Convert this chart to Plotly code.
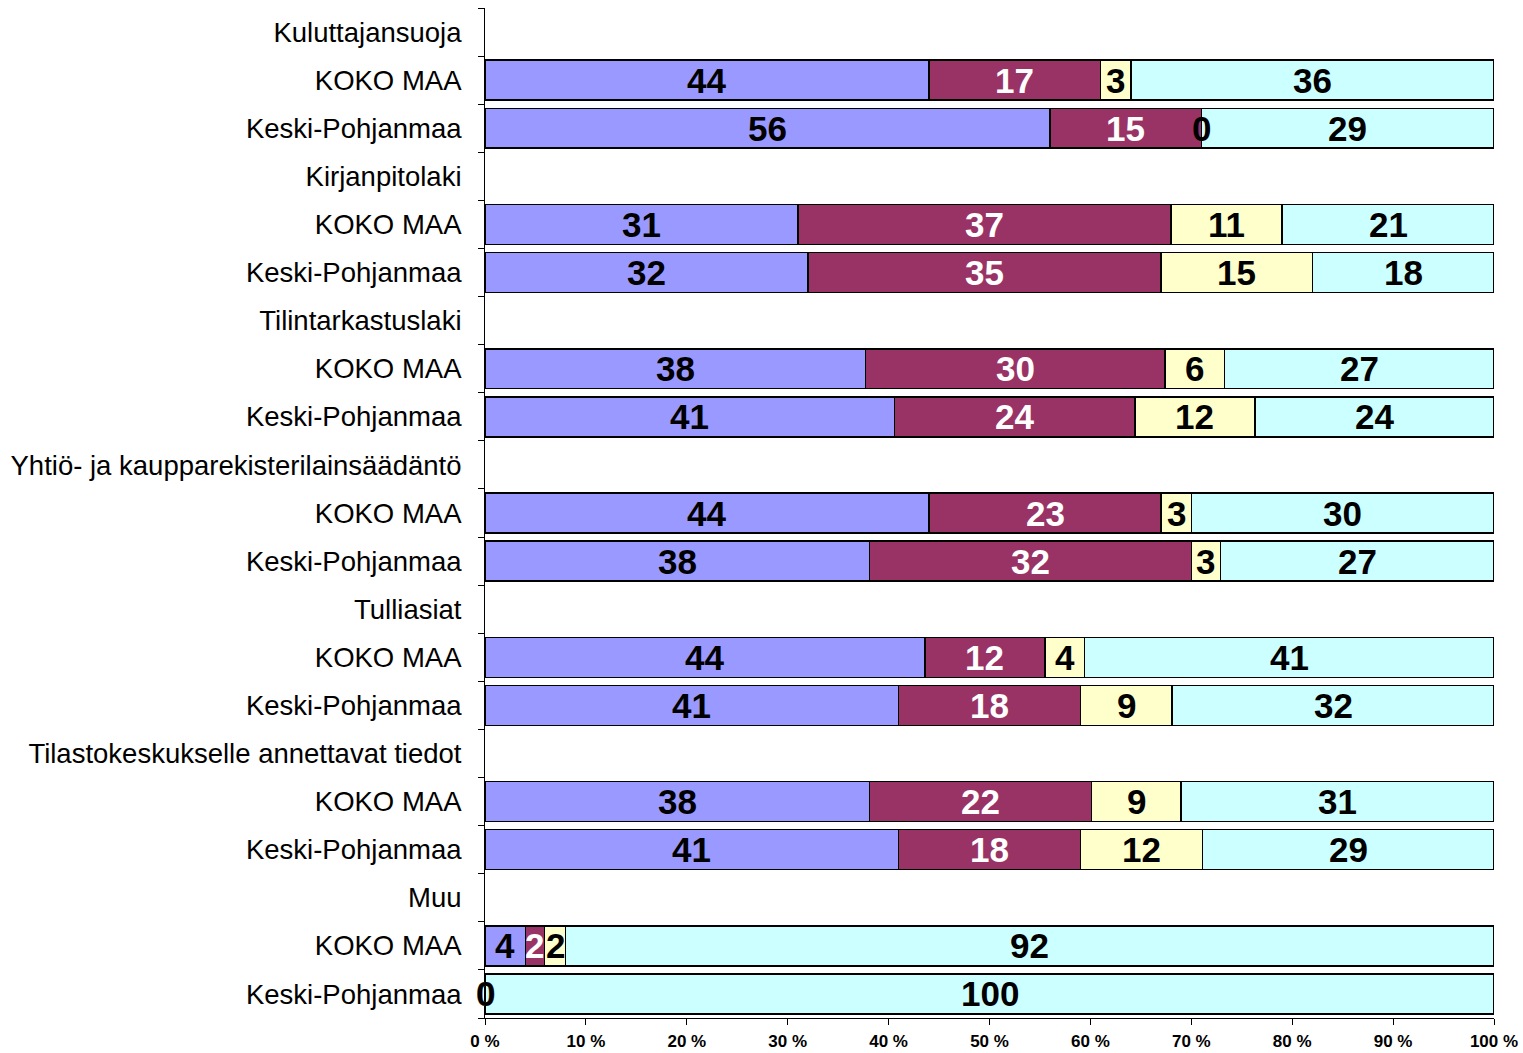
import plotly.graph_objects as go

groups = ["Kuluttajansuoja", "Kirjanpitolaki", "Tilintarkastuslaki",
          "Yhtiö- ja kaupparekisterilainsäädäntö", "Tulliasiat",
          "Tilastokeskukselle annettavat tiedot", "Muu"]
regions = ["KOKO MAA", "Keski-Pohjanmaa"]

# values per bar, in order: group x region (KOKO MAA, Keski-Pohjanmaa)
series1 = [44.0, 56.0, 31.0, 32.0, 37.7, 40.6, 44.0, 38.1, 43.6, 41.0, 38.1, 41.0, 4.0, 0.0]
series2 = [17.0, 15.0, 37.0, 35.0, 29.7, 23.8, 23.0, 31.9, 11.9, 18.0, 22.0, 18.0, 1.9, 0.0]
series3 = [3.0, 0.0, 11.0, 15.0, 5.9, 11.9, 3.0, 2.9, 3.9, 9.1, 8.9, 12.1, 2.1, 0.0]
series4 = [36.0, 29.0, 21.0, 18.0, 26.7, 23.7, 30.0, 27.1, 40.6, 31.9, 31.0, 28.9, 92.0, 100.0]

series_names = ["Sarja 1", "Sarja 2", "Sarja 3", "Sarja 4"]
colors = ["#9999FF", "#993366", "#FFFFCC", "#CCFFFF"]
text_colors = ["black", "white", "black", "black"]

tick_vals_x = [0, 10, 20, 30, 40, 50, 60, 70, 80, 90, 100]
tick_text_x = ["0 %", "10 %", "20 %", "30 %", "40 %", "50 %", "60 %", "70 %", "80 %", "90 %", "100 %"]

# build category rows (header row + one row per region)
row_ids, row_labels = [], []
bar_ids = []
for gi, g in enumerate(groups):
    row_ids.append(f"h{gi}")
    row_labels.append(g)
    for ri, r in enumerate(regions):
        rid = f"b{gi}_{ri}"
        row_ids.append(rid)
        row_labels.append(r)
        bar_ids.append(rid)

all_series = [series1, series2, series3, series4]

fig = go.Figure()
for name, vals, col in zip(series_names, all_series, colors):
    lookup = dict(zip(bar_ids, vals))
    xs = [lookup.get(rid) for rid in row_ids]
    fig.add_trace(go.Bar(
        y=row_ids, x=xs, orientation="h", name=name,
        marker=dict(color=col, line=dict(color="black", width=1.5)),
        hoverinfo="x+y",
    ))

annotations = []
for bi, rid in enumerate(bar_ids):
    cum = 0.0
    for si, vals in enumerate(all_series):
        v = vals[bi]
        annotations.append(dict(
            x=cum + v / 2, y=rid, xref="x", yref="y",
            text=str(int(round(v))), showarrow=False,
            font=dict(family="Liberation Sans, Arial, sans-serif", size=35,
                      color=text_colors[si], weight="bold"),
            xanchor="center", yanchor="middle",
        ))
        cum += v

fig.update_layout(
    barmode="stack",
    width=1523, height=1053,
    margin=dict(l=485, r=29, t=8, b=35, autoexpand=False),
    plot_bgcolor="white", paper_bgcolor="white",
    showlegend=False,
    bargap=0.17,
    annotations=annotations,
    font=dict(family="Liberation Sans, Arial, sans-serif", color="black"),
)
fig.update_xaxes(
    range=[0, 100], tickvals=tick_vals_x, ticktext=tick_text_x,
    showgrid=False, zeroline=False, showline=True, linecolor="black", linewidth=1,
    ticks="outside", ticklen=6, tickcolor="black", automargin=False,
    ticklabeloverflow="allow",
    tickfont=dict(size=17, weight="bold", color="black"), ticklabelstandoff=2,
)
fig.update_yaxes(
    type="category", categoryorder="array", categoryarray=row_ids,
    tickvals=row_ids, ticktext=row_labels, autorange="reversed",
    showgrid=False, zeroline=False, showline=True, linecolor="black", linewidth=1,
    ticks="outside", ticklen=6, tickcolor="black", tickson="boundaries",
    automargin=False,
    tickfont=dict(size=27.5, color="black"), ticklabelstandoff=17,
)

# remove the page's default body margin so the figure fills the window exactly
fig.write_html("out.html", config={"displayModeBar": False},
               post_script="document.body.style.margin='0';document.body.style.overflow='hidden';")
